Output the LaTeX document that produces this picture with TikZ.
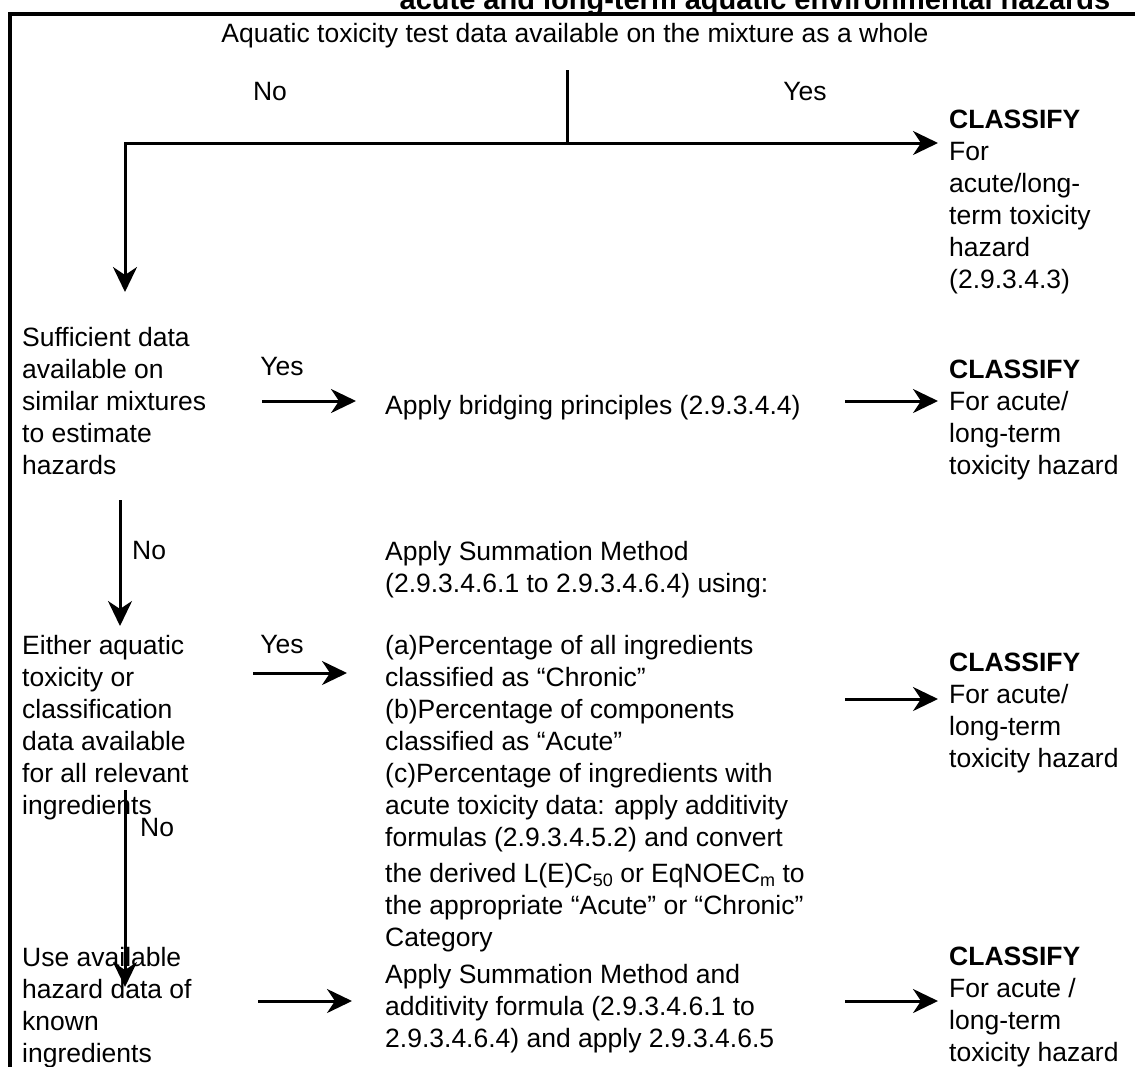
\documentclass[tikz,border=0pt]{standalone}
\usepackage{fontspec}
\setmainfont{Liberation Sans}
\usetikzlibrary{arrows.meta}
\newcommand{\mysub}[1]{\raisebox{-0.35ex}{\fontsize{18}{18}\selectfont #1}}
\tikzset{
  txt/.style={inner sep=0pt, align=left, anchor=north west, font=\fontsize{26.5}{32}\selectfont, execute at begin node=\strut},
  lbl/.style={inner sep=0pt, font=\fontsize{26.5}{32}\selectfont},
  arr/.style={line width=3pt, -{Stealth[length=25pt,width=24pt,inset=8pt]}},
  ln/.style={line width=3pt},
  frame/.style={line width=3.5pt}
}
\begin{document}
\begin{tikzpicture}[x=1pt,y=-1pt]
\useasboundingbox (0,0) rectangle (1135,1066);
\clip (0,0) rectangle (1135,1066);
% title (cut off at top)
\node[lbl, anchor=base, font=\fontsize{29}{32}\selectfont\bfseries] (title) at (755,9) {acute and long-term aquatic environmental hazards};
% frame
\coordinate (fl) at (10,1070);
\coordinate (ftl) at (10,14);
\coordinate (ftr) at (1140,14);
\draw[frame] (fl) -- (ftl) -- (ftr);
% top question
\node[lbl] (q0) at (575,36) {Aquatic toxicity test data available on the mixture as a whole};
\node[lbl] (no1) at (270,92) {No};
\node[lbl] (yes1) at (805,92) {Yes};
\coordinate (vt) at (567,70);
\coordinate (j) at (567,143);
\coordinate (c1tip) at (938,143);
\coordinate (d1tip) at (125,292);
\draw[ln] (vt) -- (j);
\draw[arr] (j) -- (c1tip);
\draw[arr] (j) -| (d1tip);
\node[txt] (c1) at (949,109.6) {\textbf{CLASSIFY}\\For\\acute/long-\\term toxicity\\hazard\\(2.9.3.4.3)};
% row 2
\node[txt] (l1) at (22,326.6) {Sufficient data\\available on\\similar mixtures\\to estimate\\hazards};
\node[lbl] (yes2) at (282,367) {Yes};
\coordinate (a2s) at (262,401);
\coordinate (a2e) at (356,401);
\draw[arr] (a2s) -- (a2e);
\node[txt] (m1) at (385,391.6) {Apply bridging principles (2.9.3.4.4)};
\coordinate (b2s) at (845,401);
\coordinate (b2e) at (938,401);
\draw[arr] (b2s) -- (b2e);
\node[txt] (c2) at (949,359.6) {\textbf{CLASSIFY}\\For acute/\\long-term\\toxicity hazard};
% down 2
\coordinate (d2s) at (120,500);
\coordinate (d2e) at (120,626);
\draw[arr] (d2s) -- (d2e);
\node[lbl, anchor=west] (no2) at (132,551) {No};
\node[txt] (m2) at (385,540.6) {Apply Summation Method\\(2.9.3.4.6.1 to 2.9.3.4.6.4) using:};
% row 3
\node[txt] (l2) at (22,634.6) {Either aquatic\\toxicity or\\classification\\data available\\for all relevant\\ingredients};
\node[lbl] (yes3) at (282,645) {Yes};
\coordinate (a3s) at (253,673);
\coordinate (a3e) at (347,673);
\draw[arr] (a3s) -- (a3e);
\node[txt] (m3) at (385,634.6) {(a)Percentage of all ingredients\\classified as “Chronic”\\(b)Percentage of components\\classified as “Acute”\\(c)Percentage of ingredients with\\acute toxicity data: apply additivity\\formulas (2.9.3.4.5.2) and convert\\[4pt]the derived L(E)C\mysub{50} or EqNOEC\mysub{m} to\\the appropriate “Acute” or “Chronic”\\Category};
\coordinate (b3s) at (845,699);
\coordinate (b3e) at (938,699);
\draw[arr] (b3s) -- (b3e);
\node[txt] (c3) at (949,652.6) {\textbf{CLASSIFY}\\For acute/\\long-term\\toxicity hazard};
% row 4
\node[txt] (l3) at (22,946.6) {Use available\\hazard data of\\known\\ingredients};
\coordinate (d3s) at (125,790);
\coordinate (d3e) at (125,987);
\draw[arr] (d3s) -- (d3e);
\node[lbl, anchor=west] (no3) at (140,827) {No};
\coordinate (a4s) at (258,1001);
\coordinate (a4e) at (352,1001);
\draw[arr] (a4s) -- (a4e);
\node[txt] (m4) at (385,963.6) {Apply Summation Method and\\additivity formula (2.9.3.4.6.1 to\\2.9.3.4.6.4) and apply 2.9.3.4.6.5};
\coordinate (b4s) at (845,1001);
\coordinate (b4e) at (938,1001);
\draw[arr] (b4s) -- (b4e);
\node[txt] (c4) at (949,946.6) {\textbf{CLASSIFY}\\For acute /\\long-term\\toxicity hazard};
\end{tikzpicture}
\end{document}
